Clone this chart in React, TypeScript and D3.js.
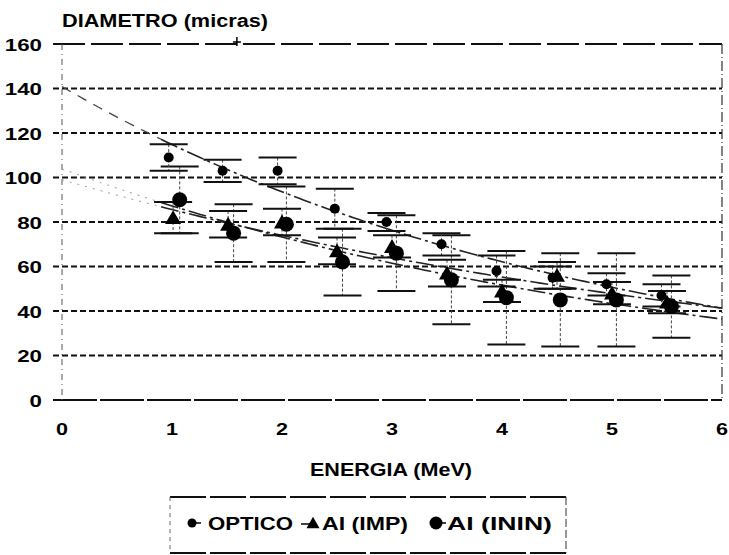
import React from 'react';
import * as d3 from 'd3';

const W = 729;
const H = 555;

// datos
const opticoE = [0.97, 1.46, 1.96, 2.48, 2.95, 3.45, 3.95, 4.46, 4.95, 5.45];
const opticoD = [109, 103, 103, 86, 80, 70, 58, 55, 52, 47];
const opticoErr = [6, 5, 6, 9, 4, 5, 7, 5, 5, 5];

const impE = [1.01, 1.51, 2.0, 2.5, 3.0, 3.5, 4.0, 4.5, 5.0, 5.5];
const impD = [82, 79, 80, 67, 69, 57, 49, 56, 48, 44];
const impErr = [7, 6, 6, 6, 5, 6, 5, 6, 5, 5];

const ininE = [1.07, 1.56, 2.04, 2.55, 3.04, 3.54, 4.04, 4.53, 5.04, 5.54];
const ininD = [90, 75, 79, 62, 66, 54, 46, 45, 45, 42];
const ininErr = [15, 13, 17, 15, 17, 20, 21, 21, 21, 14];

const offScaleE = [1.59];
const offScaleD = [160];

const yTicks = [0, 20, 40, 60, 80, 100, 120, 140, 160];
const xTicks = [0, 1, 2, 3, 4, 5, 6];
const legendLabels = ['OPTICO', 'AI (IMP)', 'AI (ININ)'];

const FONT = '"Liberation Sans", Arial, sans-serif';

// ajuste exponencial y = a*exp(k*x) por minimos cuadrados sobre ln(y)
function expFit(xs: number[], ys: number[]) {
  const ly = ys.map((v) => Math.log(v));
  const mx = d3.mean(xs) as number;
  const my = d3.mean(ly) as number;
  let sxy = 0;
  let sxx = 0;
  xs.forEach((x, i) => {
    sxy += (x - mx) * (ly[i] - my);
    sxx += (x - mx) * (x - mx);
  });
  const k = sxy / sxx;
  const a = Math.exp(my - k * mx);
  return (x: number) => a * Math.exp(k * x);
}

const x = d3.scaleLinear().domain([0, 6]).range([62, 722]);
const y = d3.scaleLinear().domain([0, 160]).range([400, 44]);

function Triangle({ cx, cy, s }: { cx: number; cy: number; s: number }) {
  const h = s * 0.8;
  return (
    <path
      d={`M${cx},${cy - h / 2 - 1}L${cx + s / 2},${cy + h / 2}L${cx - s / 2},${cy + h / 2}Z`}
      fill="#000"
    />
  );
}

function ErrorBars({ es, ds, errs }: { es: number[]; ds: number[]; errs: number[] }) {
  return (
    <g>
      {es.map((e, i) => {
        const cx = x(e);
        const top = y(ds[i] + errs[i]);
        const bot = y(ds[i] - errs[i]);
        return (
          <g key={i}>
            <line x1={cx} x2={cx} y1={top} y2={bot} stroke="#444" strokeWidth={1} strokeDasharray="3,2" />
            <line x1={cx - 19} x2={cx + 19} y1={top} y2={top} stroke="#111" strokeWidth={2} />
            <line x1={cx - 19} x2={cx + 19} y1={bot} y2={bot} stroke="#111" strokeWidth={2} />
          </g>
        );
      })}
    </g>
  );
}

function FitLine({ es, ds, faint }: { es: number[]; ds: number[]; faint: boolean }) {
  const f = expFit(es, ds);
  const line = d3
    .line<number>()
    .x((v) => x(v))
    .y((v) => y(f(v)));
  const left = d3.range(0, 0.95, 0.05);
  const right = d3.range(0.9, 6.001, 0.05);
  return (
    <g fill="none">
      <path
        d={line(left) || ''}
        stroke={faint ? '#999' : '#444'}
        strokeWidth={faint ? 1 : 1.3}
        strokeDasharray={faint ? '2,6' : '10,8'}
      />
      <path d={line(right) || ''} stroke="#222" strokeWidth={1.6} strokeDasharray="18,4,3,4" />
    </g>
  );
}

export default function App() {
  const gridTicks = yTicks.filter((t) => t > 0 && t < 160);
  return (
    <svg width={W} height={H} style={{ position: 'absolute', left: 0, top: 0, background: '#fff' }}>
      <rect width={W} height={H} fill="#fff" />
      <g fontFamily={FONT} fontWeight="bold" fill="#000">
        <text x={62} y={26.5} fontSize={18} textLength={206} lengthAdjust="spacingAndGlyphs">
          DIAMETRO (micras)
        </text>
        {yTicks.map((t) => {
          const s = String(t);
          return (
            <text key={t} x={42} y={y(t) + 6.5} fontSize={17} textAnchor="end" textLength={s.length * 12.4} lengthAdjust="spacingAndGlyphs">
              {s}
            </text>
          );
        })}
        {xTicks.map((t) => (
          <text key={t} x={x(t)} y={434.5} fontSize={17} textAnchor="middle" textLength={12} lengthAdjust="spacingAndGlyphs">
            {t}
          </text>
        ))}
        <text x={391} y={475.5} fontSize={18} textAnchor="middle" textLength={162} lengthAdjust="spacingAndGlyphs">
          ENERGIA (MeV)
        </text>
      </g>

      {/* rejilla */}
      {gridTicks.map((t) => (
        <line key={t} x1={53} x2={722} y1={y(t)} y2={y(t)} stroke="#111" strokeWidth={2} strokeDasharray="6,3" />
      ))}
      <line x1={53} x2={722} y1={y(160)} y2={y(160)} stroke="#111" strokeWidth={1.8} strokeDasharray="32,6" />
      <line x1={53} x2={722} y1={y(0)} y2={y(0)} stroke="#111" strokeWidth={2} strokeDasharray="44,3" />
      <line x1={x(0)} x2={x(0)} y1={y(160)} y2={y(0)} stroke="#555" strokeWidth={1} strokeDasharray="6,4,1,4" />
      <line x1={x(6)} x2={x(6)} y1={y(160)} y2={y(0)} stroke="#333" strokeWidth={1.2} strokeDasharray="10,3,1,3" />

      {/* ajustes */}
      <FitLine es={opticoE} ds={opticoD} faint={false} />
      <FitLine es={impE} ds={impD} faint={true} />
      <FitLine es={ininE} ds={ininD} faint={true} />

      {/* barras de error */}
      <ErrorBars es={ininE} ds={ininD} errs={ininErr} />
      <ErrorBars es={opticoE} ds={opticoD} errs={opticoErr} />
      <ErrorBars es={impE} ds={impD} errs={impErr} />

      {/* puntos */}
      {opticoE.map((e, i) => (
        <circle key={'o' + i} cx={x(e)} cy={y(opticoD[i])} r={5} fill="#000" />
      ))}
      {impE.map((e, i) => (
        <Triangle key={'t' + i} cx={x(e)} cy={y(impD[i])} s={16} />
      ))}
      {ininE.map((e, i) => (
        <circle key={'c' + i} cx={x(e)} cy={y(ininD[i])} r={7.5} fill="#000" />
      ))}
      {offScaleE.map((e, i) => (
        <g key={'p' + i} stroke="#000" strokeWidth={1.5}>
          <line x1={x(e) - 4} x2={x(e) + 4} y1={y(offScaleD[i]) - 2} y2={y(offScaleD[i]) - 2} />
          <line x1={x(e)} x2={x(e)} y1={y(offScaleD[i]) - 7} y2={y(offScaleD[i]) + 2} />
        </g>
      ))}

      {/* leyenda */}
      <g>
        <line x1={170} x2={566} y1={497} y2={497} stroke="#111" strokeWidth={1.8} strokeDasharray="36,4" />
        <line x1={170} x2={566} y1={553} y2={553} stroke="#111" strokeWidth={1.8} strokeDasharray="36,4" />
        <line x1={170} x2={170} y1={497} y2={553} stroke="#666" strokeWidth={1} strokeDasharray="4,4" />
        <line x1={566} x2={566} y1={497} y2={553} stroke="#333" strokeWidth={1} strokeDasharray="8,3" />

        <line x1={192} x2={201} y1={523} y2={523} stroke="#000" strokeWidth={1.5} />
        <circle cx={192} cy={523} r={4.5} fill="#000" />
        <line x1={301} x2={312} y1={524} y2={524} stroke="#000" strokeWidth={1.5} />
        <Triangle cx={313} cy={523} s={13} />
        <line x1={436} x2={446} y1={523} y2={523} stroke="#000" strokeWidth={1.5} />
        <circle cx={436} cy={523} r={6.5} fill="#000" />

        <g fontFamily={FONT} fontWeight="bold" fontSize={18} fill="#000">
          <text x={208} y={529.5} textLength={85} lengthAdjust="spacingAndGlyphs">{legendLabels[0]}</text>
          <text x={322} y={529.5} textLength={86} lengthAdjust="spacingAndGlyphs">{legendLabels[1]}</text>
          <text x={447} y={529.5} textLength={105} lengthAdjust="spacingAndGlyphs">{legendLabels[2]}</text>
        </g>
      </g>
    </svg>
  );
}
